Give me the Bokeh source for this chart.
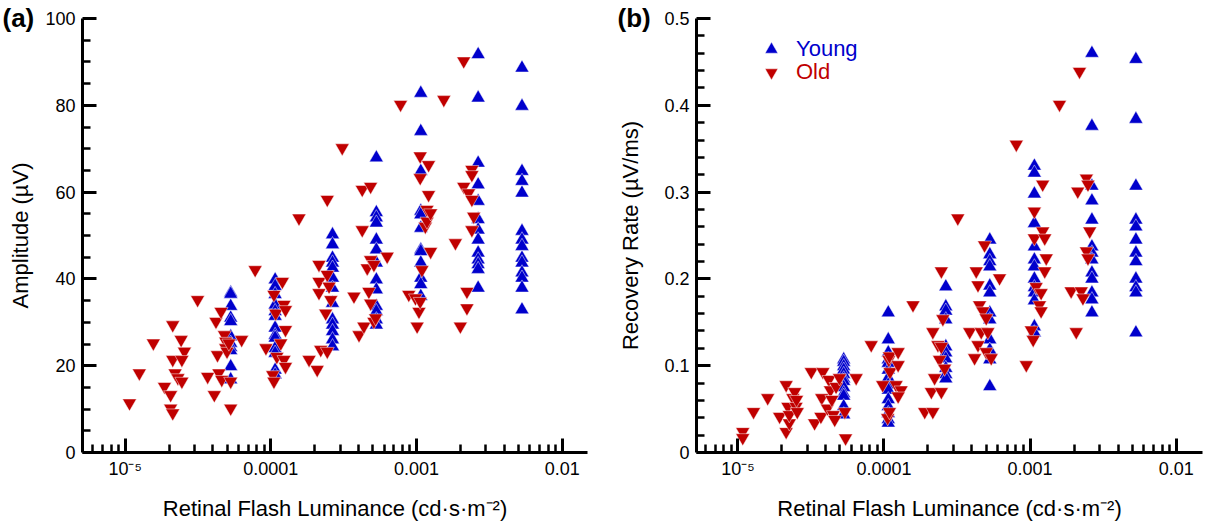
from bokeh.plotting import figure
from bokeh.layouts import row
from bokeh.models import FixedTicker, Legend, LegendItem
from bokeh.embed import file_html
from bokeh.resources import INLINE

# ---------------- data ----------------
young_lum = [5.3e-5, 1.07e-4, 2.65e-4, 5.3e-4, 1.07e-3, 2.65e-3, 5.3e-3]

young_amp_cols = [
    [36.8, 36.5, 33.7, 31.0, 30.2, 26.7, 25.2, 24.2, 23.5, 19.8, 16.8],
    [39.8, 38.3, 36.4, 34.0, 32.5, 31.4, 28.7, 27.0, 26.4, 24.0, 22.9, 19.0, 17.9],
    [50.2, 47.9, 44.8, 43.7, 42.5, 40.2, 37.9, 34.4, 30.6, 29.4, 27.9, 26.0, 24.4],
    [67.9, 55.3, 54.1, 52.9, 49.0, 46.7, 43.7, 39.8, 37.5, 33.7, 32.5, 30.6, 29.4],
    [82.8, 74.0, 64.8, 55.6, 54.8, 51.7, 46.7, 46.3, 43.7, 40.2, 38.7, 36.0],
    [91.7, 81.7, 66.7, 61.7, 57.9, 53.7, 51.3, 49.0, 46.0, 44.4, 43.3, 42.2, 37.9],
    [88.6, 79.8, 64.8, 62.5, 59.8, 51.0, 49.0, 47.5, 44.8, 43.7, 41.4, 40.2, 37.9, 32.9],
]

young_rate_cols = [
    [0.107, 0.104, 0.099, 0.095, 0.090, 0.085, 0.082, 0.075, 0.068, 0.065, 0.053, 0.0435],
    [0.161, 0.130, 0.115, 0.107, 0.103, 0.095, 0.086, 0.078, 0.072, 0.061, 0.053, 0.045, 0.038, 0.034],
    [0.191, 0.168, 0.163, 0.153, 0.122, 0.115, 0.108, 0.097, 0.090, 0.085],
    [0.245, 0.228, 0.220, 0.214, 0.192, 0.184, 0.161, 0.153, 0.130, 0.118, 0.107, 0.076],
    [0.330, 0.322, 0.298, 0.264, 0.237, 0.222, 0.214, 0.200, 0.190, 0.184, 0.175, 0.145, 0.138],
    [0.460, 0.376, 0.307, 0.290, 0.268, 0.237, 0.230, 0.222, 0.207, 0.200, 0.184, 0.176, 0.161],
    [0.453, 0.384, 0.307, 0.268, 0.260, 0.245, 0.230, 0.220, 0.200, 0.190, 0.184, 0.138],
]

old_amp = [
    (1.07e-5, 11.4), (1.25e-5, 18.3), (1.56e-5, 25.2), (1.86e-5, 15.2), (2.12e-5, 29.4),
    (2.12e-5, 21.4), (2.05e-5, 13.3), (2.05e-5, 10.2), (2.12e-5, 9.1), (2.2e-5, 18.3),
    (2.3e-5, 17.2), (2.42e-5, 26.0), (2.55e-5, 23.3), (2.45e-5, 21.4), (2.45e-5, 16.4),
    (3.14e-5, 35.2), (3.68e-5, 17.5), (4.09e-5, 13.3), (4.2e-5, 30.2), (4.3e-5, 22.5),
    (4.4e-5, 18.3), (4.55e-5, 32.5), (4.6e-5, 16.8), (4.8e-5, 27.1), (4.9e-5, 25.6),
    (4.9e-5, 24.1), (5.0e-5, 23.3), (5.3e-5, 10.2), (5.3e-5, 16.4), (5.15e-5, 25.2),
    (6.3e-5, 26.0), (7.8e-5, 42.1), (9.25e-5, 24.1), (1.03e-4, 17.9), (1.05e-4, 16.4),
    (1.05e-4, 36.4), (1.08e-4, 32.1), (1.1e-4, 22.1), (1.2e-4, 39.4), (1.17e-4, 25.2),
    (1.23e-4, 34.1), (1.26e-4, 32.9), (1.26e-4, 28.3), (1.23e-4, 21.4), (1.26e-4, 19.8),
    (1.56e-4, 54.0), (1.83e-4, 21.4), (2.08e-4, 19.1), (2.14e-4, 43.3), (2.14e-4, 39.4),
    (2.14e-4, 36.8), (2.2e-4, 23.7), (2.38e-4, 32.1), (2.44e-4, 41.0), (2.44e-4, 23.3),
    (2.44e-4, 58.3), (2.51e-4, 38.3), (2.58e-4, 35.2), (3.09e-4, 70.2), (3.72e-4, 36.0),
    (4.03e-4, 27.1), (4.24e-4, 60.6), (4.24e-4, 51.3), (4.35e-4, 29.1), (4.59e-4, 42.5),
    (4.71e-4, 37.1), (4.84e-4, 34.4), (4.84e-4, 44.4), (4.84e-4, 61.3), (5.1e-4, 30.2),
    (5.1e-4, 43.3), (5.24e-4, 31.0), (6.29e-4, 45.2), (7.77e-4, 80.2), (8.85e-4, 36.4),
    (9.84e-4, 35.6), (1.01e-3, 29.1), (1.04e-3, 32.5), (1.06e-3, 34.8), (1.06e-3, 63.3),
    (1.06e-3, 68.3), (1.09e-3, 42.1), (1.15e-3, 52.1), (1.18e-3, 53.3), (1.18e-3, 56.0),
    (1.21e-3, 59.4), (1.21e-3, 66.3), (1.25e-3, 55.2), (1.25e-3, 46.3), (1.54e-3, 81.3),
    (1.85e-3, 48.3), (2.0e-3, 29.1), (2.11e-3, 90.2), (2.11e-3, 61.3), (2.22e-3, 37.1),
    (2.22e-3, 33.3), (2.28e-3, 59.8), (2.4e-3, 65.2), (2.4e-3, 64.0), (2.4e-3, 58.3),
    (2.4e-3, 51.3), (2.47e-3, 54.4),
]

old_rate = [
    (1.08e-5, 0.024), (1.08e-5, 0.017), (1.28e-5, 0.047), (1.6e-5, 0.063), (1.93e-5, 0.0415),
    (2.14e-5, 0.078), (2.14e-5, 0.024), (2.2e-5, 0.053), (2.25e-5, 0.034), (2.25e-5, 0.0435),
    (2.38e-5, 0.063), (2.45e-5, 0.070), (2.5e-5, 0.053), (2.55e-5, 0.047), (2.52e-5, 0.061),
    (3.18e-5, 0.093), (3.35e-5, 0.034), (3.7e-5, 0.0415), (3.75e-5, 0.063), (3.82e-5, 0.093),
    (4.1e-5, 0.051), (4.2e-5, 0.084), (4.3e-5, 0.072), (4.4e-5, 0.061), (4.5e-5, 0.0435),
    (4.6e-5, 0.038), (4.7e-5, 0.076), (4.96e-5, 0.086), (5.46e-5, 0.0166), (5.4e-5, 0.047),
    (6.45e-5, 0.086), (8.18e-5, 0.124), (9.8e-5, 0.078), (1.06e-4, 0.040), (1.09e-4, 0.047),
    (1.08e-4, 0.107), (1.1e-4, 0.093), (1.09e-4, 0.111), (1.25e-4, 0.116), (1.25e-4, 0.101),
    (1.21e-4, 0.078), (1.31e-4, 0.072), (1.25e-4, 0.065),
    (1.58e-4, 0.170), (1.9e-4, 0.047), (2.16e-4, 0.047), (2.11e-4, 0.070), (2.47e-4, 0.070),
    (2.22e-4, 0.086), (2.4e-4, 0.107), (2.34e-4, 0.124), (2.16e-4, 0.139), (2.53e-4, 0.154),
    (2.47e-4, 0.209), (2.6e-4, 0.097), (2.47e-4, 0.122),
    (3.2e-4, 0.270), (3.86e-4, 0.139), (4.17e-4, 0.109), (4.28e-4, 0.209), (4.4e-4, 0.193),
    (4.4e-4, 0.124), (4.51e-4, 0.170), (4.63e-4, 0.139), (4.75e-4, 0.163), (4.88e-4, 0.239),
    (5.01e-4, 0.155), (5.01e-4, 0.116), (5.14e-4, 0.139), (5.42e-4, 0.109), (6.18e-4, 0.201),
    (8.05e-4, 0.355),
    (9.42e-4, 0.101), (1.02e-3, 0.141), (1.05e-3, 0.130), (1.07e-3, 0.278), (1.07e-3, 0.247),
    (1.10e-3, 0.191), (1.16e-3, 0.170), (1.19e-3, 0.184), (1.19e-3, 0.163), (1.22e-3, 0.309),
    (1.22e-3, 0.255), (1.26e-3, 0.247), (1.26e-3, 0.209), (1.29e-3, 0.224), (1.59e-3, 0.401),
    (1.91e-3, 0.186), (2.07e-3, 0.139), (2.12e-3, 0.301), (2.18e-3, 0.439), (2.24e-3, 0.186),
    (2.3e-3, 0.178), (2.43e-3, 0.316), (2.43e-3, 0.232), (2.49e-3, 0.309), (2.49e-3, 0.224),
    (2.56e-3, 0.255),
]

x_ticks = [1e-5, 1e-4, 1e-3, 1e-2]
x_tick_labels = ["10\u207b\u2075", "0.0001", "0.001", "0.01"]
amp_ticks = [0, 20, 40, 60, 80, 100]
amp_tick_labels = ["0", "20", "40", "60", "80", "100"]
rate_ticks = [0, 0.1, 0.2, 0.3, 0.4, 0.5]
rate_tick_labels = ["0", "0.1", "0.2", "0.3", "0.4", "0.5"]

x_label = "Retinal Flash Luminance (cd\u00b7s\u00b7m\u207b\u00b2)"

BLUE = "#0000CC"
RED = "#C00000"
FONT = "Liberation Sans"

# minor tick positions (tick configuration)
x_minor = [m * 1e-6 for m in range(6, 10)] + [m * d for d in (1e-5, 1e-4, 1e-3) for m in range(2, 10)]
amp_minor = [v for v in range(5, 100, 5) if v % 20]
rate_minor = [round(i * 0.02, 2) for i in range(1, 25) if i % 5]


def expand(lums, cols):
    xs, ys = [], []
    for lx, col in zip(lums, cols):
        xs += [lx] * len(col)
        ys += col
    return xs, ys


def style(p, ylabel, yticks, ylabels, yminor, ylab_standoff, panel, offset):
    p.grid.visible = False
    p.outline_line_color = None
    for ax in (p.xaxis[0], p.yaxis[0]):
        ax.axis_line_width = 3
        ax.major_tick_line_width = 3
        ax.minor_tick_line_width = 2.5
        ax.major_tick_in = 14
        ax.major_tick_out = 0
        ax.minor_tick_in = 8
        ax.minor_tick_out = 0
        ax.major_label_text_font = FONT
        ax.major_label_text_font_size = "18px"
        ax.major_label_text_color = "black"
        ax.axis_label_text_font = FONT
        ax.axis_label_text_font_size = "22px"
        ax.axis_label_text_font_style = "normal"
        ax.axis_label_text_color = "black"
    xa = p.xaxis[0]
    xa.ticker = FixedTicker(ticks=x_ticks, minor_ticks=x_minor)
    xa.major_label_overrides = dict(zip(x_ticks, x_tick_labels))
    xa.axis_label = x_label
    xa.major_label_standoff = 6
    xa.axis_label_standoff = 14
    ya = p.yaxis[0]
    ya.ticker = FixedTicker(ticks=yticks, minor_ticks=yminor)
    ya.major_label_overrides = dict(zip(yticks, ylabels))
    ya.axis_label = ylabel
    ya.major_label_standoff = 7
    ya.axis_label_standoff = ylab_standoff
    # panel letter as a title pulled into the top-left corner
    p.title.text = panel
    p.title.align = "left"
    p.title.offset = offset
    p.title.standoff = -28
    p.title.vertical_align = "bottom"
    p.title.text_font = FONT
    p.title.text_font_style = "bold"
    p.title.text_font_size = "26px"
    p.title.text_color = "black"


common = dict(x_axis_type="log", height=525, output_backend="svg",
              toolbar_location=None, min_border_top=18, min_border_bottom=73)

# ---------------- panel (a) ----------------
p1 = figure(width=599, x_range=(5.09e-6, 0.01493), y_range=(0, 100),
            min_border_left=82, min_border_right=12, **common)
style(p1, "Amplitude (\u00b5V)", amp_ticks, amp_tick_labels, amp_minor, 9, "(a)", -80)

yx, yy = expand(young_lum, young_amp_cols)
p1.scatter(yx, yy, marker="triangle", size=14, fill_color=BLUE,
           line_color="white", line_width=0.6, line_alpha=0.8)
p1.scatter([a for a, b in old_amp], [b for a, b in old_amp], marker="inverted_triangle",
           size=14, fill_color=RED, line_color="white", line_width=0.6, line_alpha=0.8)

# ---------------- panel (b) ----------------
p2 = figure(width=606, x_range=(5.21e-6, 0.01514), y_range=(0, 0.5),
            min_border_left=97, min_border_right=3, **common)
style(p2, "Recovery Rate (\u00b5V/ms)", rate_ticks, rate_tick_labels, rate_minor, 18, "(b)", -79)

rx, ry = expand(young_lum, young_rate_cols)
r_young = p2.scatter(rx, ry, marker="triangle", size=14, fill_color=BLUE,
                     line_color="white", line_width=0.6, line_alpha=0.8)
r_old = p2.scatter([a for a, b in old_rate], [b for a, b in old_rate], marker="inverted_triangle",
                   size=14, fill_color=RED, line_color="white", line_width=0.6, line_alpha=0.8)

for label, rend, col, loc in (("Young", r_young, BLUE, (59, 387)), ("Old", r_old, RED, (59, 364))):
    lg = Legend(items=[LegendItem(label=label, renderers=[rend])], location=loc,
                glyph_width=32, glyph_height=32, label_standoff=9, padding=0, margin=0,
                spacing=0, border_line_color=None, background_fill_alpha=0,
                label_text_font=FONT, label_text_font_size="22px", label_text_color=col)
    p2.add_layout(lg)

layout = row(p1, p2)
open("out.html", "w").write(file_html(layout, INLINE))
